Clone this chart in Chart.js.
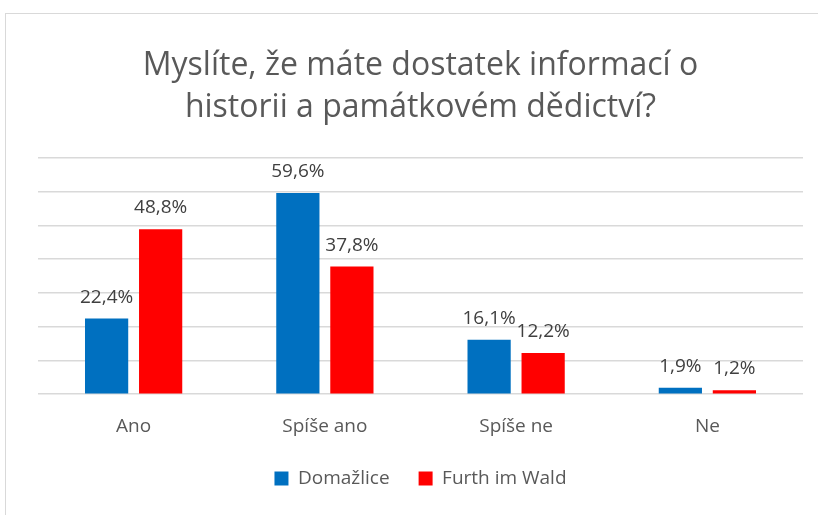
<!DOCTYPE html>
<html>
<head>
<meta charset="utf-8">
<script src="https://cdn.jsdelivr.net/npm/chart.js@4"></script>
<style>
  body { margin: 0; background: #fff; }
  #frame { position: absolute; left: 5px; top: 13px; width: 840px; height: 530px; border: 1.5px solid #d9d9d9; }
  #chart { position: absolute; left: 0; top: 0; }
</style>
</head>
<body>
<div id="frame"></div>
<canvas id="chart" width="818" height="515"></canvas>
<script>
const categories = ["Ano", "Spíše ano", "Spíše ne", "Ne"];
const domazlice = [22.4, 59.6, 16.1, 1.9];
const furth = [48.8, 37.8, 12.2, 1.2];
const titleLines = ["Myslíte, že máte dostatek informací o", "historii a památkovém dědictví?"];

const FONT = "'Open Sans', 'Noto Sans', sans-serif";

// data labels above each bar
const valueLabels = {
  id: "valueLabels",
  afterDatasetsDraw(chart) {
    const ctx = chart.ctx;
    ctx.save();
    ctx.font = "19px " + FONT;
    ctx.fillStyle = "#404040";
    ctx.textAlign = "center";
    ctx.textBaseline = "alphabetic";
    chart.data.datasets.forEach((ds, i) => {
      chart.getDatasetMeta(i).data.forEach((bar, j) => {
        ctx.fillText(ds.data[j].toFixed(1).replace(".", ",") + "%", bar.x, bar.y - 16);
      });
    });
    ctx.restore();
  }
};

const ctx = document.getElementById("chart").getContext("2d");
new Chart(ctx, {
  type: "bar",
  data: {
    labels: categories,
    datasets: [
      { label: "Domažlice", data: domazlice, backgroundColor: "#0070C0" },
      { label: "Furth im Wald", data: furth, backgroundColor: "#FF0000" }
    ]
  },
  options: {
    responsive: false,
    animation: false,
    devicePixelRatio: 1,
    datasets: { bar: { categoryPercentage: 0.565, barPercentage: 0.8 } },
    layout: { padding: { left: 38, right: 15, top: 20, bottom: 17 } },
    plugins: {
      title: {
        display: true,
        text: titleLines,
        color: "#595959",
        font: { family: FONT, size: 32, weight: "normal", lineHeight: 1.34 },
        padding: { top: 24, bottom: 28 }
      },
      legend: {
        position: "bottom",
        labels: {
          color: "#595959",
          font: { family: FONT, size: 19 },
          boxWidth: 14,
          boxHeight: 14,
          padding: 29
        }
      },
      tooltip: { enabled: false }
    },
    scales: {
      x: {
        grid: { display: false },
        border: { display: false },
        ticks: { color: "#595959", font: { family: FONT, size: 19 }, padding: 13 },
        afterFit(scale) { scale.height -= 11; }
      },
      y: {
        min: 0,
        max: 70,
        ticks: { display: false, stepSize: 10 },
        grid: { color: "#d9d9d9", lineWidth: 1.5, drawTicks: false },
        border: { display: false }
      }
    }
  },
  plugins: [valueLabels]
});
</script>
</body>
</html>
